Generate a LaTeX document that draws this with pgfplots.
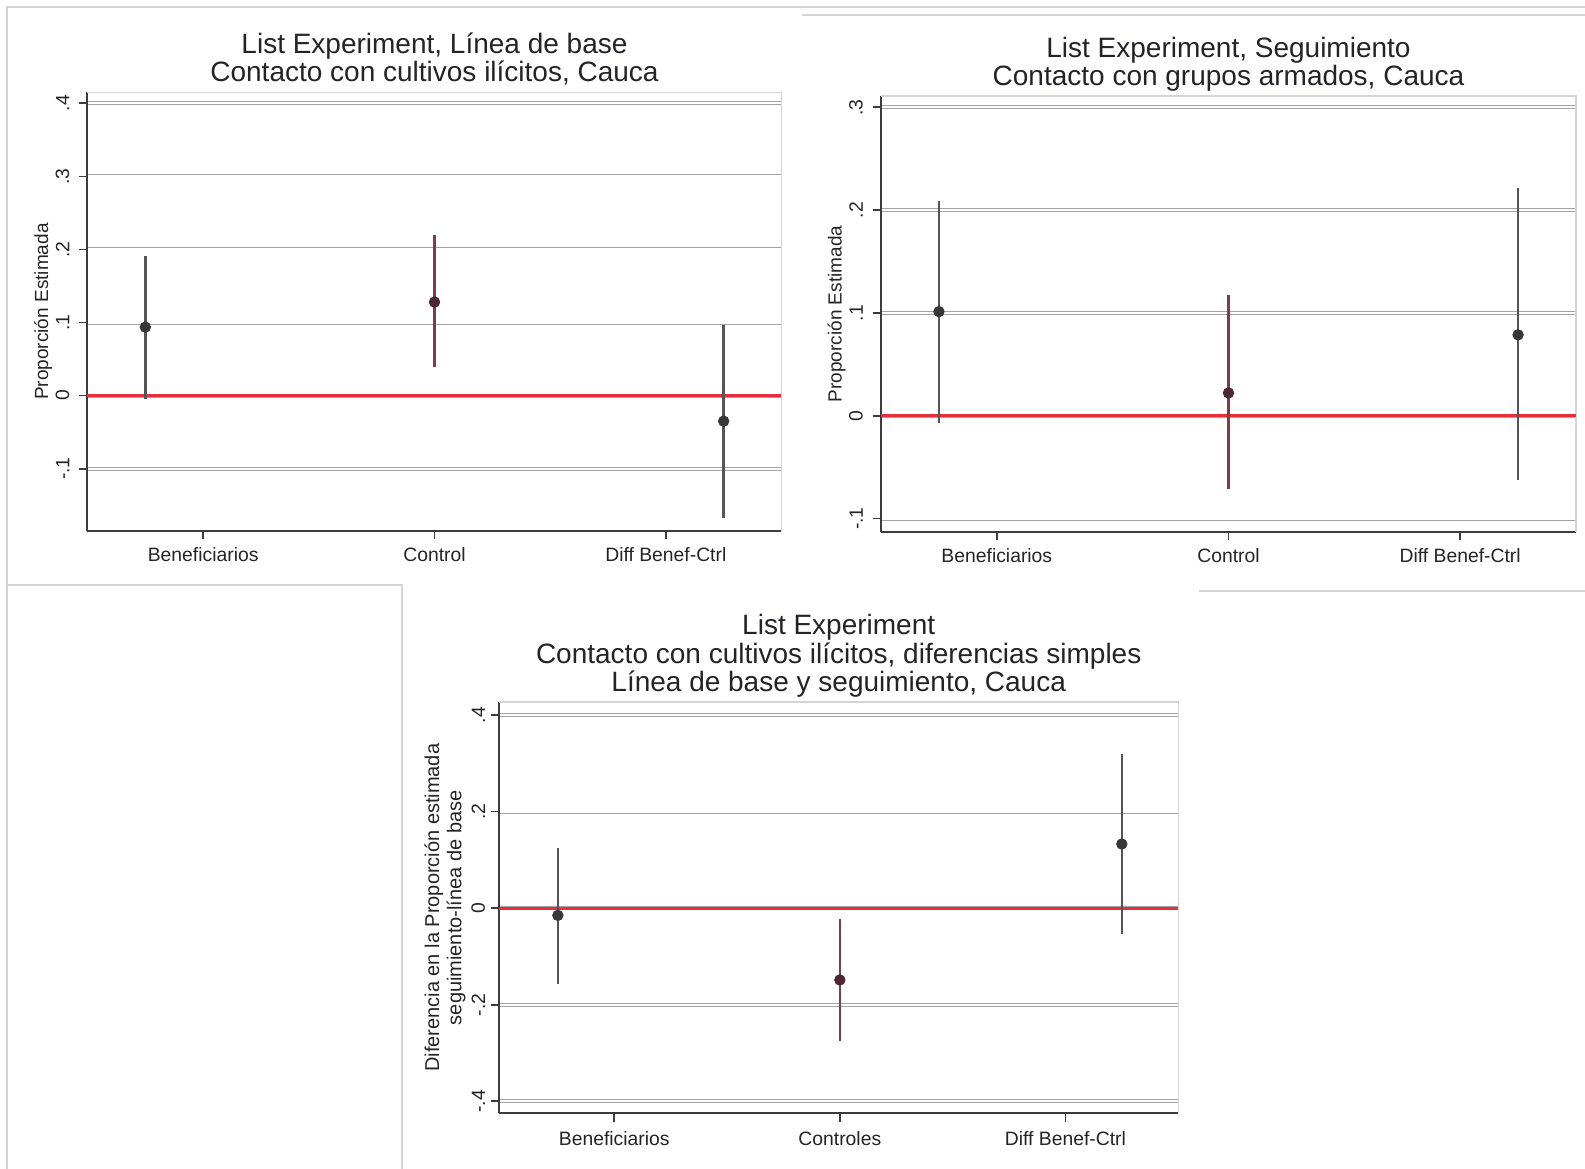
\documentclass[border=0pt]{standalone}
\usepackage{fontspec}
\setmainfont{Liberation Sans}
\usepackage{pgfplots}
\pgfplotsset{compat=1.18}
\definecolor{axcol}{RGB}{60,60,60}
\definecolor{gridc}{RGB}{165,165,165}
\definecolor{zeroc}{RGB}{232,45,60}
\definecolor{ptc}{RGB}{55,55,58}
\definecolor{cic}{RGB}{85,85,85}
\definecolor{ctlc}{RGB}{125,62,72}
\definecolor{ctlp}{RGB}{75,40,48}
\definecolor{framec}{RGB}{212,212,212}
\definecolor{txtc}{RGB}{35,35,40}
\pgfplotsset{
  panel/.style={
    scale only axis, anchor=south west,
    xmin=0.5, xmax=3.5, xtick={1,2,3},
    axis x line*=bottom, axis y line*=left,
    axis line style={draw=axcol, line width=0.6pt, -},
    tick style={draw=axcol, line width=0.5pt},
    major tick length=2.5pt,
    tick align=outside,
    ymajorgrids,
    major grid style={draw=gridc, line width=0.25pt, double=white, double distance=0.7pt},
    ticklabel style={font=\fontsize{5.8}{6}\selectfont, text=txtc},
    every axis y label/.style={at={(axis description cs:-0.064,0.5)}, rotate=90, anchor=center, font=\fontsize{5.7}{5.1}\selectfont, text=txtc, align=center},
    every axis title/.style={at={(axis description cs:0.5,1)}, anchor=south, inner sep=0pt, yshift=0.5pt, align=center, font=\fontsize{8.4}{8.46}\selectfont, text=txtc},
    clip=false,
  },
  ci/.style={line width=0.75pt, forget plot},
  pt/.style={only marks, mark=*, mark size=1.5pt},
}
\begin{document}
\begin{tikzpicture}
\begin{scope}[x=0.3pt, y=-0.3pt]
\path[use as bounding box] (0,0) rectangle (1585,1169);
\draw[framec, line width=0.6pt] (7.5,1169) -- (7.5,7) -- (1585,7);
\draw[framec, line width=0.6pt] (802,15.5) -- (1585,15.5);
\draw[framec, line width=0.6pt] (7.5,585) -- (402,585) -- (402,1169);
\draw[framec, line width=0.6pt] (1199,591) -- (1585,591);
\coordinate (p1) at (87.5,530.8);
\coordinate (p2) at (881,532);
\coordinate (p3) at (499.2,1113.4);
\end{scope}

% ---------- Panel 1 ----------
\begin{axis}[panel, at={(p1)}, width=208.2pt, height=131.55pt,
  ymin=-0.185, ymax=0.415,
  ytick={-0.1,0,0.1,0.2,0.3,0.4}, yticklabels={-.1,0,.1,.2,.3,.4},
  yticklabel style={xshift=0.6pt, rotate=90, anchor=south},
  xticklabel style={yshift=1.1pt},
  xticklabels={Beneficiarios,Control,Diff Benef-Ctrl},
  ylabel={Proporción Estimada},
  title={List Experiment, Línea de base\\Contacto con cultivos ilícitos, Cauca\strut}]
\draw[framec, line width=0.4pt] (rel axis cs:0,1) -- (rel axis cs:1,1) -- (rel axis cs:1,0);
\addplot[zeroc, line width=0.9pt, forget plot] coordinates {(0.5,0) (3.5,0)};
\addplot[ci, cic] coordinates {(0.75,-0.005) (0.75,0.1915)};
\addplot[ci, ctlc] coordinates {(2,0.0396) (2,0.22)};
\addplot[ci, cic] coordinates {(3.25,-0.168) (3.25,0.0963)};
\addplot[pt, ptc] coordinates {(0.75,0.0937) (3.25,-0.035)};
\addplot[pt, ctlp] coordinates {(2,0.128)};
\end{axis}

% ---------- Panel 2 ----------
\begin{axis}[panel, at={(p2)}, width=208.5pt, height=130.8pt,
  ymin=-0.113, ymax=0.311,
  ytick={-0.1,0,0.1,0.2,0.3}, yticklabels={-.1,0,.1,.2,.3},
  yticklabel style={xshift=0.6pt, rotate=90, anchor=south},
  xticklabel style={yshift=1.1pt},
  xticklabels={Beneficiarios,Control,Diff Benef-Ctrl},
  ylabel={Proporción Estimada},
  title={List Experiment, Seguimiento\\Contacto con grupos armados, Cauca\strut}]
\draw[framec, line width=0.4pt] (rel axis cs:0,1) -- (rel axis cs:1,1) -- (rel axis cs:1,0);
\addplot[zeroc, line width=0.9pt, forget plot] coordinates {(0.5,0) (3.5,0)};
\addplot[ci, cic] coordinates {(0.75,-0.007) (0.75,0.209)};
\addplot[ci, ctlc] coordinates {(2,-0.0707) (2,0.117)};
\addplot[ci, cic] coordinates {(3.25,-0.0627) (3.25,0.222)};
\addplot[pt, ptc] coordinates {(0.75,0.1013) (3.25,0.0787)};
\addplot[pt, ctlp] coordinates {(2,0.0222)};
\end{axis}

% ---------- Panel 3 ----------
\begin{axis}[panel, at={(p3)}, width=203.7pt, height=123.4pt,
  xmin=0.49,
  ymin=-0.425, ymax=0.427,
  ytick={-0.4,-0.2,0,0.2,0.4}, yticklabels={-.4,-.2,0,.2,.4},
  yticklabel style={xshift=1.8pt, rotate=90, anchor=south},
  xticklabel style={yshift=0.6pt},
  xticklabels={Beneficiarios,Controles,Diff Benef-Ctrl},
  ylabel={Diferencia en la Proporción estimada\\seguimiento-línea de base},
  ylabel style={at={(axis description cs:-0.08,0.5)}, font=\fontsize{6}{5}\selectfont},
  title={List Experiment\\Contacto con cultivos ilícitos, diferencias simples\\Línea de base y seguimiento, Cauca\strut}]
\draw[framec, line width=0.4pt] (rel axis cs:0,1) -- (rel axis cs:1,1) -- (rel axis cs:1,0);
\addplot[zeroc, line width=0.9pt, forget plot] coordinates {(0.49,0) (3.5,0)};
\addplot[ci, cic] coordinates {(0.75,-0.156) (0.75,0.125)};
\addplot[ci, ctlc] coordinates {(2,-0.2755) (2,-0.0226)};
\addplot[ci, cic] coordinates {(3.25,-0.0537) (3.25,0.320)};
\addplot[pt, ptc] coordinates {(0.75,-0.0148) (3.25,0.133)};
\addplot[pt, ctlp] coordinates {(2,-0.1486)};
\end{axis}
\end{tikzpicture}
\end{document}
